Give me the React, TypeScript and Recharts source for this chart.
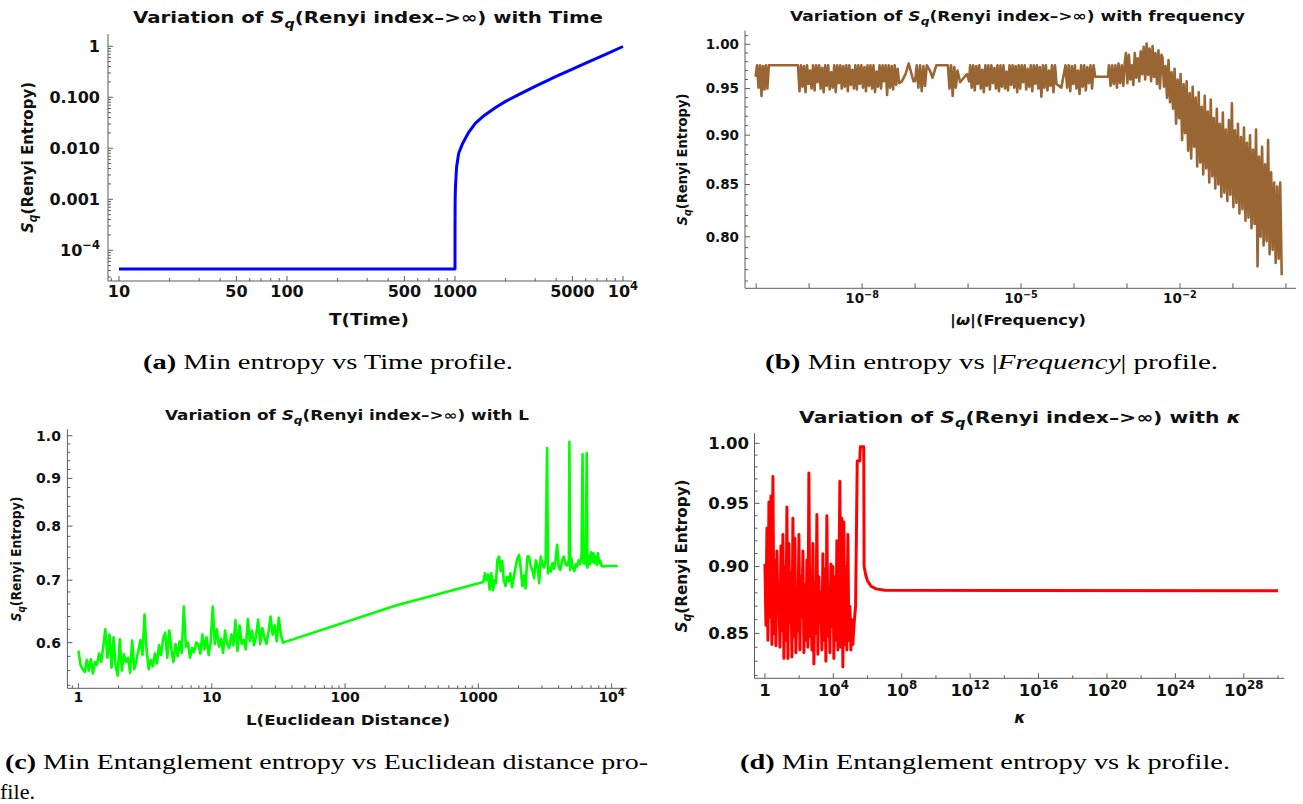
import React from 'react';
import { LineChart, Line, XAxis, YAxis } from 'recharts';

// ---------------- Panel (a): entropy vs time ----------------
const aTime = [10, 1000, 1000.5, 1002, 1006, 1022, 1052, 1112, 1200, 1324, 1500, 1754, 2000, 2344, 3000, 4000, 5000, 6000, 8000, 10000];
const aEntropy = [4.3e-5, 4.3e-5, 0.0003, 0.0009, 0.0017, 0.0043, 0.008, 0.0126, 0.02, 0.031, 0.0445, 0.064, 0.083, 0.109, 0.164, 0.256, 0.358, 0.468, 0.71, 0.99];
const aXMajor = [10, 50, 100, 500, 1000, 5000, 10000];
const aXLabels = ['10', '50', '100', '500', '1000', '5000', '10^4'];
const aYMajor = [1e-4, 1e-3, 0.01, 0.1, 1];
const aYLabels = ['10^−4', '0.001', '0.010', '0.100', '1'];

// ---------------- Panel (b): entropy vs |frequency| ----------------
// dense noisy stretches: [log10 start, log10 end] + values read along the stretch
const bSeg1 = [0.963, 0.976, 0.951, 0.976, 0.942, 0.975, 0.949, 0.976, 0.950, 0.976];
const bLink1 = [[-9.74, 0.976], [-9.23, 0.976]];
const bSeg2 = [
  0.976, 0.947, 0.976, 0.952, 0.975, 0.946, 0.976, 0.955, 0.970, 0.950,
  0.976, 0.948, 0.976, 0.957, 0.976, 0.950, 0.973, 0.946, 0.976, 0.953,
  0.976, 0.949, 0.968, 0.951, 0.976, 0.946, 0.976, 0.956, 0.976, 0.950,
  0.975, 0.952, 0.976, 0.947, 0.976, 0.954, 0.971, 0.950, 0.976, 0.949,
  0.976, 0.955, 0.976, 0.951, 0.974, 0.947, 0.976, 0.953, 0.976, 0.950,
  0.976, 0.946, 0.969, 0.952, 0.976, 0.950, 0.976, 0.958, 0.976, 0.943,
  0.976, 0.951, 0.975, 0.949, 0.976, 0.954, 0.972, 0.956,
];
const bLink2 = [[-7.25, 0.958], [-7.18, 0.966], [-7.12, 0.978], [-7.03, 0.958]];
const bSeg3 = [0.958, 0.976, 0.951, 0.976, 0.947, 0.975, 0.953, 0.976];
const bLink3 = [[-6.72, 0.970], [-6.67, 0.962], [-6.60, 0.976], [-6.40, 0.976]];
const bSeg4 = [0.976, 0.950, 0.976, 0.942, 0.974, 0.951, 0.970];
const bLink4 = [[-6.15, 0.957], [-6.08, 0.962], [-6.02, 0.966], [-5.98, 0.958]];
const bSeg5 = [
  0.976, 0.951, 0.976, 0.948, 0.975, 0.955, 0.976, 0.950, 0.971, 0.946,
  0.976, 0.953, 0.976, 0.949, 0.976, 0.956, 0.973, 0.950, 0.976, 0.947,
  0.976, 0.952, 0.976, 0.950, 0.969, 0.948, 0.976, 0.954, 0.976, 0.951,
  0.975, 0.946, 0.976, 0.950, 0.976, 0.957, 0.976, 0.949, 0.972, 0.952,
  0.976, 0.947, 0.976, 0.955, 0.976, 0.950, 0.974, 0.941, 0.976, 0.951,
  0.976, 0.948, 0.970, 0.953, 0.976, 0.946, 0.976, 0.955,
];
const bLink5 = [[-4.24, 0.951]];
const bSeg6 = [0.976, 0.951, 0.976, 0.947, 0.975, 0.955, 0.976, 0.950, 0.970, 0.944, 0.976, 0.952, 0.976, 0.948, 0.974, 0.956, 0.976, 0.950, 0.976];
const bLink6 = [[-3.60, 0.963], [-3.36, 0.963]];
const bSeg7 = [0.976, 0.953, 0.976, 0.955, 0.976, 0.951, 0.978, 0.956, 0.976, 0.953, 0.980];
const bSeg8 = [
  0.990, 0.956, 0.988, 0.960, 0.976, 0.954, 0.990, 0.962, 0.984, 0.958,
  0.992, 0.966, 0.997, 0.960, 1.001, 0.965, 0.995, 0.958, 0.998, 0.963,
  0.990, 0.955, 0.993, 0.950, 0.988,
];
const bSeg9 = [
  0.985, 0.952, 0.975, 0.940, 0.982, 0.935, 0.968, 0.928, 0.972, 0.912,
  0.960, 0.918, 0.966, 0.895, 0.955, 0.902, 0.958, 0.884, 0.945, 0.876,
  0.952, 0.888, 0.940, 0.868, 0.946, 0.872, 0.930, 0.860, 0.942, 0.866,
  0.925, 0.852, 0.938, 0.858, 0.918, 0.846, 0.928, 0.850, 0.912, 0.838,
  0.924, 0.842, 0.906, 0.834, 0.916, 0.840, 0.934, 0.828, 0.905, 0.832,
  0.912, 0.822, 0.898, 0.826, 0.908, 0.815, 0.892, 0.818, 0.900, 0.808,
  0.885, 0.812, 0.906, 0.773, 0.878, 0.800, 0.888, 0.792, 0.870, 0.796,
  0.895, 0.784, 0.862, 0.788, 0.852, 0.776, 0.848, 0.780, 0.852, 0.765,
];
const bXMajorExp = [-10, -9, -8, -7, -6, -5, -4, -3, -2, -1, 0];
const bXLabels = ['', '', '10^−8', '', '', '10^−5', '', '', '10^−2', '', ''];
const bYMajor = [0.8, 0.85, 0.9, 0.95, 1.0];
const bYLabels = ['0.80', '0.85', '0.90', '0.95', '1.00'];

// ---------------- Panel (c): entropy vs L ----------------
const cSeg1 = [
  0.588, 0.568, 0.562, 0.558, 0.575, 0.560, 0.576, 0.556, 0.572, 0.568,
  0.584, 0.572, 0.594, 0.620, 0.578, 0.612, 0.564, 0.608, 0.566, 0.553,
  0.605, 0.560, 0.583, 0.572, 0.578, 0.557, 0.603, 0.562, 0.574, 0.588,
  0.604, 0.582, 0.643, 0.588, 0.562, 0.575, 0.566, 0.584, 0.570, 0.596,
  0.582, 0.606, 0.615, 0.578, 0.618, 0.590, 0.572, 0.598, 0.580, 0.602,
  0.585, 0.656, 0.594, 0.600, 0.578, 0.592, 0.586, 0.600, 0.598, 0.584,
  0.612, 0.590, 0.608, 0.582, 0.600, 0.656, 0.598, 0.620, 0.594, 0.606,
  0.585, 0.618, 0.598, 0.592, 0.612, 0.596, 0.634, 0.588, 0.626, 0.598,
  0.604, 0.590, 0.636, 0.602, 0.618, 0.596, 0.610, 0.635, 0.598, 0.622,
  0.608, 0.598, 0.616, 0.640, 0.612, 0.626, 0.602, 0.638, 0.612, 0.600,
];
const cBridgeL = [244];
const cBridgeS = [0.658];
const cTailL = [
  1091, 1120, 1150, 1185, 1215, 1250, 1290, 1320, 1355, 1390, 1430, 1470, 1510, 1550, 1600, 1640, 1690, 1740, 1790, 1840,
  1900, 1960, 2020, 2080, 2140, 2200, 2260, 2330, 2400, 2470, 2550, 2620, 2700, 2780, 2860, 2940, 3020, 3110, 3200, 3280,
  3330, 3420, 3500, 3600, 3700, 3800, 3900, 4000, 4120, 4250, 4380, 4500, 4650, 4780, 4820, 4880, 4980, 5100, 5250, 5380,
  5520, 5660, 5800, 5950, 6050, 6150, 6300, 6400, 6500, 6580, 6700, 6850, 7000, 7150, 7300, 7450, 7600, 7750, 7900, 8050,
  8200, 8400, 8650, 9200, 11100,
];
const cTailS = [
  0.697, 0.712, 0.700, 0.710, 0.684, 0.712, 0.683, 0.700, 0.695, 0.736, 0.742, 0.716, 0.734, 0.700, 0.690, 0.706, 0.698, 0.712, 0.688, 0.704,
  0.722, 0.738, 0.745, 0.720, 0.690, 0.708, 0.686, 0.742, 0.742, 0.725, 0.716, 0.704, 0.735, 0.726, 0.695, 0.742, 0.728, 0.722, 0.736, 0.970,
  0.712, 0.722, 0.715, 0.730, 0.720, 0.736, 0.764, 0.724, 0.718, 0.735, 0.742, 0.728, 0.726, 0.736, 0.985, 0.718, 0.740, 0.722, 0.716, 0.728,
  0.724, 0.735, 0.728, 0.745, 0.955, 0.730, 0.742, 0.728, 0.958, 0.722, 0.744, 0.728, 0.750, 0.732, 0.748, 0.730, 0.742, 0.727, 0.748, 0.730,
  0.735, 0.725, 0.724, 0.725, 0.725,
];
const cXMajor = [1, 10, 100, 1000, 10000];
const cXLabels = ['1', '10', '100', '1000', '10^4'];
const cYMajor = [0.6, 0.7, 0.8, 0.9, 1.0];
const cYLabels = ['0.6', '0.7', '0.8', '0.9', '1.0'];

// ---------------- Panel (d): entropy vs kappa ----------------
const dSeg1 = [
  0.902, 0.856, 0.930, 0.845, 0.951, 0.862, 0.956, 0.842, 0.972, 0.850,
  0.905, 0.841, 0.912, 0.868, 0.880, 0.840, 0.916, 0.852, 0.925, 0.832,
  0.900, 0.845, 0.947, 0.832, 0.918, 0.858, 0.895, 0.833, 0.938, 0.848,
  0.922, 0.836, 0.878, 0.852, 0.925, 0.838, 0.892, 0.862, 0.912, 0.836,
  0.886, 0.845, 0.905, 0.840, 0.975, 0.848, 0.895, 0.838, 0.918, 0.828,
  0.888, 0.850, 0.941, 0.835, 0.892, 0.858, 0.880, 0.838, 0.910, 0.845,
  0.898, 0.830, 0.940, 0.848, 0.885, 0.836, 0.902, 0.855, 0.900, 0.832,
  0.892, 0.845, 0.920, 0.838, 0.885, 0.968, 0.840, 0.938, 0.826, 0.935,
  0.842, 0.900, 0.838, 0.925, 0.845, 0.870, 0.838, 0.860, 0.842, 0.855,
];
const dTailK = [2.0e5, 2.5e5, 3.5e5, 3.8e5, 6.0e5, 6.3e5, 8.0e5, 1.0e6, 1.6e6, 3.2e6, 1.0e7, 1.0e30];
const dTailS = [0.870, 0.985, 0.985, 0.997, 0.997, 0.900, 0.893, 0.889, 0.885, 0.883, 0.882, 0.8815];
const dXMajorExp = [0, 4, 8, 12, 16, 20, 24, 28];
const dXLabels = ['1', '10^4', '10^8', '10^12', '10^16', '10^20', '10^24', '10^28'];
const dXMinorExp = [2, 6, 10, 14, 18, 22, 26, 30];
const dYMajor = [0.85, 0.9, 0.95, 1.0];
const dYLabels = ['0.85', '0.90', '0.95', '1.00'];

// ---------------- helpers ----------------
type Pt = { x: number; y: number };
const spread = (lo: number, hi: number, vals: number[]): Pt[] =>
  vals.map((v, i) => ({ x: Math.pow(10, lo + ((hi - lo) * i) / (vals.length - 1)), y: v }));
const fromExp = (pairs: number[][]): Pt[] => pairs.map(([e, v]) => ({ x: Math.pow(10, e), y: v }));
const zip = (xs: number[], ys: number[]): Pt[] => xs.map((x, i) => ({ x, y: ys[i] }));

const aData = zip(aTime, aEntropy);
const bData: Pt[] = [
  ...spread(-10.01, -9.76, bSeg1), ...fromExp(bLink1),
  ...spread(-9.21, -7.30, bSeg2), ...fromExp(bLink2),
  ...spread(-7.0, -6.78, bSeg3), ...fromExp(bLink3),
  ...spread(-6.38, -6.2, bSeg4), ...fromExp(bLink4),
  ...spread(-5.96, -4.33, bSeg5), ...fromExp(bLink5),
  ...spread(-4.16, -3.63, bSeg6), ...fromExp(bLink6),
  ...spread(-3.34, -3.04, bSeg7),
  ...spread(-3.02, -2.35, bSeg8),
  ...spread(-2.33, -0.08, bSeg9),
];
const cData: Pt[] = [...spread(0, 1.534, cSeg1), ...zip(cBridgeL, cBridgeS), ...zip(cTailL, cTailS)];
const dData: Pt[] = [...spread(0, 5.2, dSeg1), ...zip(dTailK, dTailS)];

const logMinors = (lo: number, hi: number): number[] => {
  const out: number[] = [];
  for (let e = Math.floor(Math.log10(lo)) - 1; e <= Math.ceil(Math.log10(hi)); e++) {
    for (let k = 1; k <= 9; k++) {
      const v = parseFloat((k * Math.pow(10, e)).toPrecision(6));
      if (v >= lo && v <= hi) out.push(v);
    }
  }
  return out;
};
const linMinors = (lo: number, hi: number, step: number): number[] => {
  const out: number[] = [];
  for (let v = Math.ceil(lo / step) * step; v <= hi + 1e-9; v += step) out.push(Math.round(v * 1000) / 1000);
  return out;
};

const FONT = '"DejaVu Sans", Verdana, sans-serif';
const SERIF = '"Liberation Serif", "Times New Roman", serif';
const FRAME = '#5c5c5c';

type Side = 'bottom' | 'top' | 'left' | 'right';
const near = (a: number, b: number) => Math.abs(a - b) <= Math.abs(b) * 1e-6;

function makeTick(side: Side, majors: number[], labels: string[], fs: number, gap: number) {
  return function Tick(props: any) {
    const { x, y, payload } = props;
    const v = Number(payload && payload.value);
    const idx = majors.findIndex((m) => near(v, m));
    const len = idx >= 0 ? 5 : 3;
    let x2 = x;
    let y2 = y;
    if (side === 'bottom') y2 = y - len;
    if (side === 'top') y2 = y + len;
    if (side === 'left') x2 = x + len;
    if (side === 'right') x2 = x - len;
    const lab = (side === 'bottom' || side === 'left') && idx >= 0 ? labels[idx] : '';
    const [base, sup] = lab ? lab.split('^') : ['', undefined];
    return (
      <g>
        <line x1={x} y1={y} x2={x2} y2={y2} stroke={FRAME} strokeWidth={1} />
        {lab ? (
          <text
            x={side === 'bottom' ? x : x - gap}
            y={side === 'bottom' ? y + gap : y + fs * 0.36}
            textAnchor={side === 'bottom' ? 'middle' : 'end'}
            fontFamily={FONT}
            fontWeight="bold"
            fontSize={fs}
            fill="#111"
          >
            <tspan>{base}</tspan>
            {sup ? (
              <tspan dy={-fs * 0.42} fontSize={fs * 0.72}>
                {sup}
              </tspan>
            ) : null}
          </text>
        ) : null}
      </g>
    );
  };
}

type PanelProps = {
  box: { x: number; y: number; w: number; h: number };
  frame: { l: number; t: number; r: number; b: number };
  xDomain: [number, number];
  yDomain: [number, number];
  xTicks: number[];
  xMajors: number[];
  xLabels: string[];
  yTicks: number[];
  yMajors: number[];
  yLabels: string[];
  fs: number;
  xGap: number;
  yGap: number;
  data: Pt[];
  color: string;
  sw: number;
};

function Panel(p: PanelProps) {
  const W = 40;
  const H = 30;
  const margin = {
    left: p.frame.l - p.box.x - W,
    top: p.frame.t - p.box.y,
    right: p.box.x + p.box.w - p.frame.r,
    bottom: p.box.y + p.box.h - p.frame.b - H,
  };
  const axisLine = { stroke: FRAME, strokeWidth: 1 };
  return (
    <div style={{ position: 'absolute', left: p.box.x, top: p.box.y, width: p.box.w, height: p.box.h }}>
      <LineChart width={p.box.w} height={p.box.h} data={p.data} margin={margin}>
        <XAxis
          xAxisId="b"
          dataKey="x"
          type="number"
          scale="log"
          domain={p.xDomain}
          allowDataOverflow
          ticks={p.xTicks}
          interval={0}
          tickSize={0}
          tickMargin={0}
          height={H}
          axisLine={axisLine}
          tickLine={false}
          tick={makeTick('bottom', p.xMajors, p.xLabels, p.fs, p.xGap)}
        />
        <XAxis
          xAxisId="t"
          orientation="top"
          dataKey="x"
          type="number"
          scale="log"
          domain={p.xDomain}
          allowDataOverflow
          ticks={p.xTicks}
          interval={0}
          tickSize={0}
          tickMargin={0}
          height={0}
          axisLine={axisLine}
          tickLine={false}
          tick={makeTick('top', p.xMajors, p.xLabels, p.fs, p.xGap)}
        />
        <YAxis
          yAxisId="l"
          type="number"
          scale="log"
          domain={p.yDomain}
          allowDataOverflow
          ticks={p.yTicks}
          interval={0}
          tickSize={0}
          tickMargin={0}
          width={W}
          axisLine={axisLine}
          tickLine={false}
          tick={makeTick('left', p.yMajors, p.yLabels, p.fs, p.yGap)}
        />
        <YAxis
          yAxisId="r"
          orientation="right"
          type="number"
          scale="log"
          domain={p.yDomain}
          allowDataOverflow
          ticks={p.yTicks}
          interval={0}
          tickSize={0}
          tickMargin={0}
          width={0}
          axisLine={axisLine}
          tickLine={false}
          tick={makeTick('right', p.yMajors, p.yLabels, p.fs, p.yGap)}
        />
        <Line
          xAxisId="b"
          yAxisId="l"
          dataKey="y"
          type="linear"
          stroke={p.color}
          strokeWidth={p.sw}
          dot={false}
          activeDot={false}
          isAnimationActive={false}
          strokeLinejoin="round"
        />
      </LineChart>
    </div>
  );
}

function SqText({ fs }: { fs: number }) {
  return (
    <>
      <tspan fontStyle="italic">S</tspan>
      <tspan fontStyle="italic" fontSize={fs * 0.72} dy={fs * 0.28}>
        q
      </tspan>
    </>
  );
}

function Title({ cx, y, len, fs, tail, tailItalic }: { cx: number; y: number; len: number; fs: number; tail: string; tailItalic?: boolean }) {
  return (
    <text x={cx} y={y} textAnchor="middle" fontFamily={FONT} fontWeight="bold" fontSize={fs} textLength={len} lengthAdjust="spacingAndGlyphs" fill="#111">
      <tspan>{'Variation of '}</tspan>
      <SqText fs={fs} />
      <tspan dy={-fs * 0.28}>{'(Renyi index–>∞) with '}</tspan>
      <tspan fontStyle={tailItalic ? 'italic' : 'normal'}>{tail}</tspan>
    </text>
  );
}

function YLabel({ x, cy, len, fs }: { x: number; cy: number; len: number; fs: number }) {
  return (
    <text transform={`translate(${x},${cy}) rotate(-90)`} textAnchor="middle" fontFamily={FONT} fontWeight="bold" fontSize={fs} textLength={len} lengthAdjust="spacingAndGlyphs" fill="#111">
      <SqText fs={fs} />
      <tspan dy={-fs * 0.28}>{'(Renyi Entropy)'}</tspan>
    </text>
  );
}

function Caption({ x, y, len, tag, children }: { x: number; y: number; len: number; tag: string; children: React.ReactNode }) {
  return (
    <text x={x} y={y} fontFamily={SERIF} fontSize={20} textLength={len} lengthAdjust="spacingAndGlyphs" fill="#000">
      {tag ? <tspan fontWeight="bold">{tag}</tspan> : null}
      {children}
    </text>
  );
}

export default function App() {
  const aXTicks = logMinors(8.6, 11315);
  const aYTicks = logMinors(2.5e-5, 1.74);
  const bXTicks = bXMajorExp.map((e) => Math.pow(10, e));
  const bYTicks = linMinors(0.76, 1.01, 0.01);
  const cXTicks = logMinors(0.826, 13040);
  const cYTicks = linMinors(0.54, 1.0, 0.02);
  const dXTicks = [...dXMajorExp, ...dXMinorExp].sort((a, b) => a - b).map((e) => Math.pow(10, e));
  const dYTicks = linMinors(0.82, 1.0, 0.01);

  return (
    <div style={{ position: 'fixed', left: 0, top: 0, width: 1303, height: 804, background: '#fff', overflow: 'hidden' }}>
      <Panel
        box={{ x: 0, y: 0, w: 650, h: 400 }}
        frame={{ l: 108, t: 34, r: 632, b: 281 }}
        xDomain={[8.6, 11315]}
        yDomain={[2.5e-5, 1.74]}
        xTicks={aXTicks}
        xMajors={aXMajor}
        xLabels={aXLabels}
        yTicks={aYTicks}
        yMajors={aYMajor}
        yLabels={aYLabels}
        fs={16}
        xGap={16}
        yGap={8}
        data={aData}
        color="#0000ff"
        sw={3}
      />
      <Panel
        box={{ x: 650, y: 0, w: 653, h: 400 }}
        frame={{ l: 745, t: 30.7, r: 1296, b: 288.3 }}
        xDomain={[Math.pow(10, -10.21), Math.pow(10, 0.19)]}
        yDomain={[0.7536, 1.0159]}
        xTicks={bXTicks}
        xMajors={bXTicks}
        xLabels={bXLabels}
        yTicks={bYTicks}
        yMajors={bYMajor}
        yLabels={bYLabels}
        fs={13.5}
        xGap={15}
        yGap={6}
        data={bData}
        color="#996633"
        sw={2.6}
      />
      <Panel
        box={{ x: 0, y: 400, w: 650, h: 404 }}
        frame={{ l: 67.4, t: 429.3, r: 627, b: 688.3 }}
        xDomain={[0.826, 13040]}
        yDomain={[0.536, 1.016]}
        xTicks={cXTicks}
        xMajors={cXMajor}
        xLabels={cXLabels}
        yTicks={cYTicks}
        yMajors={cYMajor}
        yLabels={cYLabels}
        fs={14}
        xGap={14}
        yGap={6.5}
        data={cData}
        color="#00ff00"
        sw={2.6}
      />
      <Panel
        box={{ x: 650, y: 400, w: 653, h: 404 }}
        frame={{ l: 754.5, t: 433.3, r: 1284.3, b: 678.3 }}
        xDomain={[Math.pow(10, -0.61), Math.pow(10, 30.37)]}
        yDomain={[0.818, 1.0086]}
        xTicks={dXTicks}
        xMajors={dXMajorExp.map((e) => Math.pow(10, e))}
        xLabels={dXLabels}
        yTicks={dYTicks}
        yMajors={dYMajor}
        yLabels={dYLabels}
        fs={16.5}
        xGap={18}
        yGap={5.5}
        data={dData}
        color="#ff0000"
        sw={3}
      />
      <svg width={1303} height={804} style={{ position: 'absolute', left: 0, top: 0, pointerEvents: 'none' }}>
        <Title cx={368} y={23.3} len={470} fs={16} tail="Time" />
        <Title cx={1017.5} y={20.7} len={455} fs={14.5} tail="frequency" />
        <Title cx={347} y={420} len={364} fs={13.5} tail="L" />
        <Title cx={1020} y={422.7} len={442} fs={16} tail="κ" tailItalic />

        <YLabel x={33} cy={157.5} len={151} fs={16} />
        <YLabel x={687} cy={159.5} len={132} fs={14.5} />
        <YLabel x={21} cy={559} len={125} fs={13.5} />
        <YLabel x={687} cy={556} len={153} fs={16} />

        <text x={369} y={325} textAnchor="middle" fontFamily={FONT} fontWeight="bold" fontSize={15.5} textLength={80} lengthAdjust="spacingAndGlyphs" fill="#111">T(Time)</text>
        <text x={1018} y={325} textAnchor="middle" fontFamily={FONT} fontWeight="bold" fontSize={14.5} textLength={136} lengthAdjust="spacingAndGlyphs" fill="#111">
          <tspan>|</tspan><tspan fontStyle="italic">ω</tspan><tspan>|(Frequency)</tspan>
        </text>
        <text x={348} y={725} textAnchor="middle" fontFamily={FONT} fontWeight="bold" fontSize={14} textLength={204} lengthAdjust="spacingAndGlyphs" fill="#111">L(Euclidean Distance)</text>
        <text x={1020} y={723} textAnchor="middle" fontFamily={FONT} fontWeight="bold" fontStyle="italic" fontSize={16} fill="#111">κ</text>

        <Caption x={143} y={369} len={370} tag="(a)">{' Min entropy vs Time profile.'}</Caption>
        <Caption x={765} y={369} len={453} tag="(b)">
          <tspan>{' Min entropy vs |'}</tspan>
          <tspan fontStyle="italic">Frequency</tspan>
          <tspan>{'| profile.'}</tspan>
        </Caption>
        <Caption x={5} y={769} len={643} tag="(c)">{' Min Entanglement entropy vs Euclidean distance pro-'}</Caption>
        <Caption x={0} y={799} len={35} tag="">{'file.'}</Caption>
        <Caption x={740} y={769} len={490} tag="(d)">{' Min Entanglement entropy vs k profile.'}</Caption>
      </svg>
    </div>
  );
}
